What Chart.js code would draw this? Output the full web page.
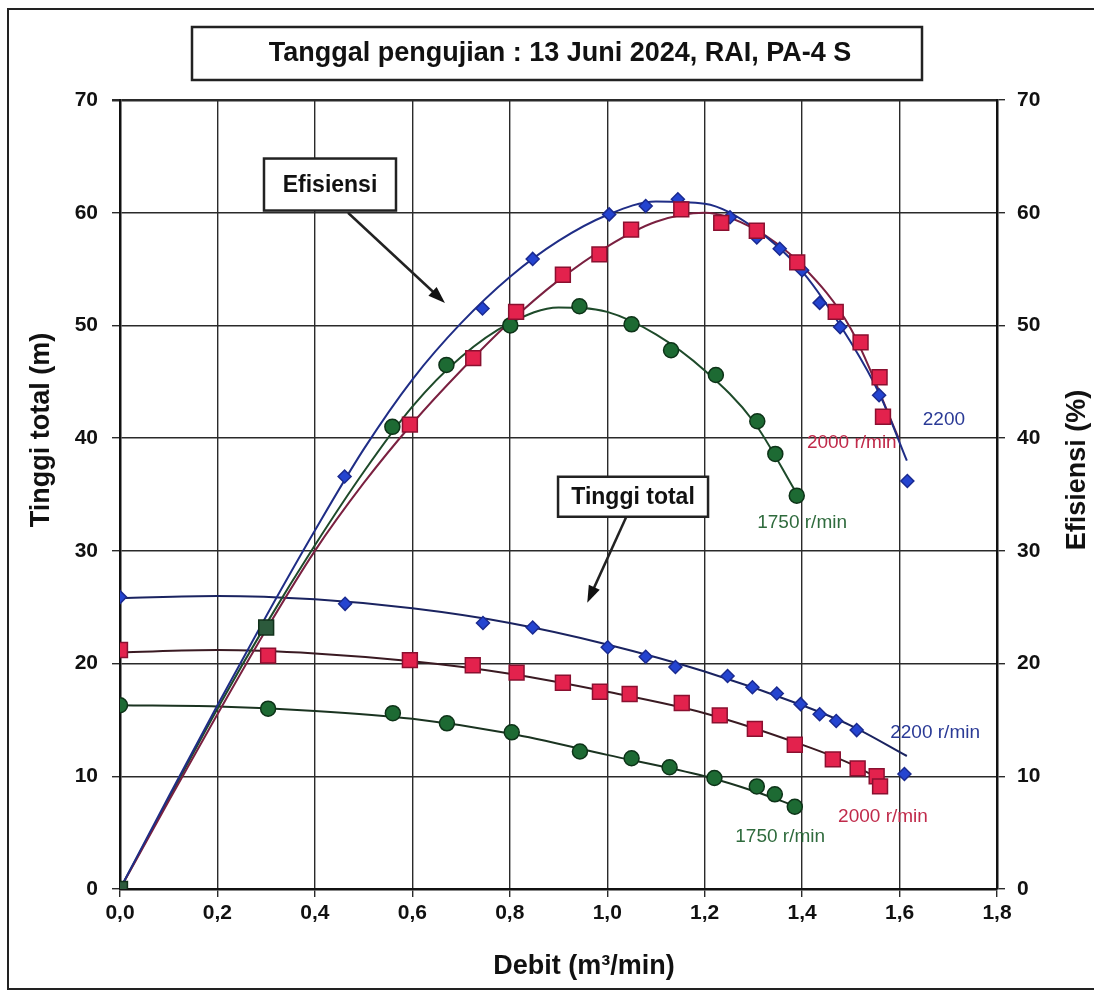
<!DOCTYPE html>
<html lang="id">
<head>
<meta charset="UTF-8">
<title>Kurva performa pompa PA-4 S</title>
<script src="https://cdn.jsdelivr.net/npm/chart.js"></script>
<style>
  body { margin: 0; background: #fff; }
  #wrap { width: 1094px; height: 996px; position: relative; }
</style>
</head>
<body>
<div id="wrap"><canvas id="pumpChart"></canvas></div>
<script>
// --- titik ukur: debit (m3/min) dan nilai ---
const qEff2200 = [0.461, 0.744, 0.847, 1.004, 1.079, 1.145, 1.252, 1.307, 1.354, 1.40, 1.436, 1.478, 1.558, 1.616];
const eff2200  = [36.6, 51.5, 55.9, 59.85, 60.6, 61.2, 59.6, 57.8, 56.8, 54.9, 52.0, 49.85, 43.8, 36.2];
const qEff2000 = [0.595, 0.725, 0.813, 0.909, 0.984, 1.049, 1.152, 1.234, 1.307, 1.39, 1.469, 1.52, 1.559, 1.566];
const eff2000  = [41.2, 47.1, 51.2, 54.5, 56.3, 58.5, 60.3, 59.1, 58.4, 55.6, 51.2, 48.5, 45.4, 41.9];
const qEff1750 = [0.559, 0.67, 0.801, 0.943, 1.05, 1.131, 1.223, 1.308, 1.345, 1.389];
const eff1750  = [41.0, 46.5, 50.0, 51.7, 50.1, 47.8, 45.6, 41.5, 38.6, 34.9];
const qEffCommon = [0, 0.3];
const effCommon  = [0, 23.2];

const qHead2200 = [0, 0.462, 0.745, 0.847, 1.001, 1.079, 1.14, 1.247, 1.298, 1.348, 1.397, 1.436, 1.47, 1.512, 1.61];
const head2200  = [25.9, 25.3, 23.6, 23.2, 21.45, 20.6, 19.7, 18.9, 17.9, 17.35, 16.4, 15.5, 14.9, 14.1, 10.2];
const qHead2000 = [0, 0.304, 0.595, 0.724, 0.814, 0.909, 0.985, 1.046, 1.153, 1.231, 1.303, 1.385, 1.463, 1.514, 1.553, 1.56];
const head2000  = [21.2, 20.7, 20.3, 19.85, 19.2, 18.3, 17.5, 17.3, 16.5, 15.4, 14.2, 12.8, 11.5, 10.7, 10.0, 9.1];
const qHead1750 = [0, 0.304, 0.56, 0.671, 0.804, 0.944, 1.05, 1.128, 1.22, 1.307, 1.344, 1.385];
const head1750  = [16.3, 16.0, 15.6, 14.7, 13.9, 12.2, 11.6, 10.8, 9.85, 9.1, 8.4, 7.3];

// --- kurva pendekatan ---
const qFitEff2200 = [0, 0.1, 0.2, 0.3, 0.4, 0.5, 0.6, 0.7, 0.8, 0.9, 1.0, 1.1, 1.2, 1.3, 1.4, 1.5, 1.56, 1.615];
const fitEff2200  = [0, 8.2, 16.3, 24.2, 31.8, 39, 45.2, 50.2, 54.3, 57.5, 59.8, 61.0, 60.8, 58.7, 54.8, 48.5, 43.8, 38];
const qFitEff2000 = [0, 0.1, 0.2, 0.3, 0.4, 0.5, 0.6, 0.7, 0.8, 0.9, 1.0, 1.1, 1.2, 1.3, 1.4, 1.5, 1.6];
const fitEff2000  = [0, 7.8, 15.5, 23, 30, 36, 41.3, 46, 50.3, 54, 57, 59.2, 60, 58.6, 55.3, 49.7, 39.8];
const qFitEff1750 = [0, 0.1, 0.2, 0.3, 0.4, 0.5, 0.6, 0.7, 0.8, 0.9, 1.0, 1.1, 1.2, 1.3, 1.39];
const fitEff1750  = [0, 8, 16, 23.5, 30.5, 37, 42.8, 47.2, 50.2, 51.6, 51.2, 49.2, 46.0, 41.5, 35];
const qFitHead2200 = [0, 0.2, 0.4, 0.6, 0.8, 1.0, 1.2, 1.4, 1.5, 1.615];
const fitHead2200  = [25.8, 26.0, 25.7, 24.9, 23.6, 21.7, 19.3, 16.3, 14.5, 11.8];
const qFitHead2000 = [0, 0.2, 0.4, 0.6, 0.8, 1.0, 1.2, 1.4, 1.5, 1.565];
const fitHead2000  = [21.0, 21.2, 20.9, 20.2, 19.1, 17.5, 15.6, 12.8, 11.1, 9.6];
const qFitHead1750 = [0, 0.2, 0.4, 0.6, 0.8, 1.0, 1.2, 1.3, 1.39];
const fitHead1750  = [16.3, 16.2, 15.8, 15.1, 13.8, 11.9, 10.0, 8.7, 7.3];

const yTicks = [0, 10, 20, 30, 40, 50, 60, 70];
const chartTitle = 'Tanggal pengujian : 13 Juni 2024, RAI, PA-4 S';
const xTitle = 'Debit (m³/min)';
const yTitle = 'Tinggi total (m)';
const y2Title = 'Efisiensi (%)';

const FONT = "'Liberation Sans', Arial, sans-serif";
const pts = (xs, ys) => xs.map((x, i) => ({ x: x, y: ys[i] }));

const BLUE = '#2444d0', RED = '#e3224d', GREEN = '#1d6a33';

function fitLine(xs, ys, color, axis) {
  return { data: pts(xs, ys), showLine: true, pointRadius: 0, borderColor: color, borderWidth: 2,
           cubicInterpolationMode: 'monotone', yAxisID: axis, order: 5 };
}
function marks(xs, ys, style, r, fill, edge, axis) {
  return { data: pts(xs, ys), showLine: false, pointStyle: style, pointRadius: r, pointBackgroundColor: fill,
           pointBorderColor: edge, pointBorderWidth: 1.5, yAxisID: axis, order: 1 };
}

function arrow(ctx, x1, y1, x2, y2) {
  const a = Math.atan2(y2 - y1, x2 - x1), len = 17, w = 6;
  ctx.beginPath(); ctx.moveTo(x1, y1); ctx.lineTo(x2 - Math.cos(a) * len * 0.7, y2 - Math.sin(a) * len * 0.7); ctx.stroke();
  ctx.beginPath();
  ctx.moveTo(x2, y2);
  ctx.lineTo(x2 - len * Math.cos(a) + w * Math.sin(a), y2 - len * Math.sin(a) - w * Math.cos(a));
  ctx.lineTo(x2 - len * Math.cos(a) - w * Math.sin(a), y2 - len * Math.sin(a) + w * Math.cos(a));
  ctx.closePath(); ctx.fill();
}

const decor = {
  id: 'decor',
  afterDraw(chart) {
    const ctx = chart.ctx, xs = chart.scales.x, ys = chart.scales.y;
    const px = v => xs.getPixelForValue(v), py = v => ys.getPixelForValue(v);
    ctx.save();
    ctx.strokeStyle = '#222'; ctx.fillStyle = '#111';
    // bingkai luar
    ctx.lineWidth = 2;
    ctx.beginPath(); ctx.moveTo(1094, 9); ctx.lineTo(8, 9); ctx.lineTo(8, 989); ctx.lineTo(1094, 989); ctx.stroke();
    // judul
    ctx.lineWidth = 2.5;
    ctx.strokeRect(192, 27, 730, 53);
    ctx.font = 'bold 27px ' + FONT; ctx.textAlign = 'center'; ctx.textBaseline = 'middle';
    ctx.fillText(chartTitle, 560, 54);
    // judul sumbu
    ctx.font = 'bold 27px ' + FONT;
    ctx.fillText(xTitle, 584, 967);
    ctx.save(); ctx.translate(42, 430); ctx.rotate(-Math.PI / 2); ctx.fillText(yTitle, 0, 0); ctx.restore();
    ctx.save(); ctx.translate(1078, 470); ctx.rotate(-Math.PI / 2); ctx.fillText(y2Title, 0, 0); ctx.restore();
    // kotak keterangan + panah
    const box = (cx, cy, w, h, text, size) => {
      ctx.fillStyle = '#fff'; ctx.fillRect(cx - w / 2, cy - h / 2, w, h);
      ctx.lineWidth = 2.5; ctx.strokeRect(cx - w / 2, cy - h / 2, w, h);
      ctx.fillStyle = '#111'; ctx.font = 'bold ' + size + 'px ' + FONT; ctx.fillText(text, cx, cy + 1);
    };
    box(px(0.431), py(62.5), 132, 52, 'Efisiensi', 23);
    box(px(1.053), py(34.8), 150, 40, 'Tinggi total', 23);
    ctx.lineWidth = 2.5; ctx.fillStyle = '#111';
    arrow(ctx, px(0.468), py(60.0), px(0.667), py(52.0));
    arrow(ctx, px(1.039), py(33.0), px(0.959), py(25.4));
    // label putaran
    ctx.font = '19px ' + FONT;
    const lab = (t, x, y, c) => { ctx.fillStyle = c; ctx.fillText(t, px(x), py(y)); };
    lab('2200', 1.691, 41.6, '#2a3a96');
    lab('2000 r/min', 1.502, 39.6, '#c02a4a');
    lab('1750 r/min', 1.40, 32.5, '#2f6b3d');
    lab('2200 r/min', 1.673, 13.9, '#2a3a96');
    lab('2000 r/min', 1.566, 6.4, '#c02a4a');
    lab('1750 r/min', 1.355, 4.6, '#2f6b3d');
    ctx.restore();
  }
};

const tickFont = { family: FONT, size: 21, weight: 'bold' };
const gridStyle = {
  color: '#2a2a2a', tickColor: '#2a2a2a', tickLength: 8,
  lineWidth: c => (c.tick && c.tick.value === 70 ? 2.5 : 1.4)
};

new Chart(document.getElementById('pumpChart'), {
  type: 'scatter',
  data: {
    datasets: [
      fitLine(qFitEff2200, fitEff2200, '#1f2d86', 'y2'),
      fitLine(qFitEff2000, fitEff2000, '#7a2040', 'y2'),
      fitLine(qFitEff1750, fitEff1750, '#1e4a2a', 'y2'),
      fitLine(qFitHead2200, fitHead2200, '#1a2360', 'y'),
      fitLine(qFitHead2000, fitHead2000, '#3a1a22', 'y'),
      fitLine(qFitHead1750, fitHead1750, '#1a3320', 'y'),
      marks(qEff2000, eff2000, 'rect', 10.5, RED, '#8a1030', 'y2'),
      marks(qHead2000, head2000, 'rect', 10.5, RED, '#8a1030', 'y'),
      marks(qEff1750, eff1750, 'circle', 7.5, GREEN, '#0d3318', 'y2'),
      marks(qHead1750, head1750, 'circle', 7.5, GREEN, '#0d3318', 'y'),
      marks(qEff2200, eff2200, 'rectRot', 6.5, BLUE, '#1a2a90', 'y2'),
      marks(qHead2200, head2200, 'rectRot', 6.5, BLUE, '#1a2a90', 'y'),
      marks(qEffCommon, effCommon, 'rect', 10.5, '#2c5a3c', '#10301a', 'y2')
    ]
  },
  options: {
    responsive: true,
    maintainAspectRatio: false,
    animation: false,
    layout: { padding: { top: 100, left: 0, right: 0, bottom: 0 } },
    plugins: { legend: { display: false }, tooltip: { enabled: false } },
    scales: {
      x: {
        type: 'linear', min: 0, max: 1.8,
        ticks: { stepSize: 0.2, font: tickFont, color: '#111', padding: 4,
                 callback: v => v.toFixed(1).replace('.', ',') },
        grid: gridStyle,
        border: { color: '#111', width: 2.5 },
        afterFit: s => { s.height = 107; }
      },
      y: {
        position: 'left', min: 0, max: 70,
        afterBuildTicks: s => { s.ticks = yTicks.map(v => ({ value: v })); },
        ticks: { font: tickFont, color: '#111', padding: 14 },
        grid: gridStyle,
        border: { color: '#111', width: 2.5 },
        afterFit: s => { s.width = 120; }
      },
      y2: {
        position: 'right', min: 0, max: 70,
        afterBuildTicks: s => { s.ticks = yTicks.map(v => ({ value: v })); },
        ticks: { font: tickFont, color: '#111', padding: 12 },
        grid: { drawOnChartArea: false, color: '#2a2a2a', tickLength: 8, lineWidth: 1.4 },
        border: { color: '#111', width: 2.5 },
        afterFit: s => { s.width = 97; }
      }
    }
  },
  plugins: [decor]
});
</script>
</body>
</html>
